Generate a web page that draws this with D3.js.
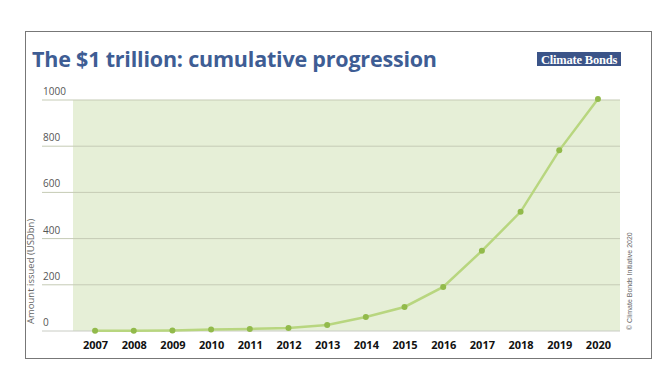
<!DOCTYPE html>
<html>
<head>
<meta charset="utf-8">
<script src="https://cdn.jsdelivr.net/npm/d3@7"></script>
<style>
  body { margin: 0; background: #fff; }
  svg { display: block; }
</style>
</head>
<body>
<svg id="chart" width="672" height="374"></svg>
<script>
// cumulative green bond issuance, USDbn
var years = [2007, 2008, 2009, 2010, 2011, 2012, 2013, 2014, 2015, 2016, 2017, 2018, 2019, 2020];
var amounts = [1, 1.5, 2, 6, 9, 13, 26, 61, 104, 191, 347, 516, 782, 1004];
var yTicks = [0, 200, 400, 600, 800, 1000];

var svg = d3.select("#chart"),
    margin = {top: 100, right: 52, bottom: 43, left: 73},
    width = +svg.attr("width") - margin.left - margin.right,
    height = +svg.attr("height") - margin.top - margin.bottom;

// outer frame
svg.append("rect")
    .attr("x", 25.5).attr("y", 31.5)
    .attr("width", 626).attr("height", 327)
    .attr("fill", "none")
    .attr("stroke", "#777")
    .attr("stroke-width", 1);

svg.append("text")
    .attr("x", 32)
    .attr("y", 67)
    .attr("fill", "#3e5d94")
    .style("font", "bold 21.5px 'Open Sans', sans-serif")
    .style("letter-spacing", "-0.2px")
    .text("The $1 trillion: cumulative progression");

// logo
var logo = svg.append("g").attr("transform", "translate(537,52)");
logo.append("rect")
    .attr("width", 84).attr("height", 14)
    .attr("fill", "#3b5488");
logo.append("text")
    .attr("x", 42).attr("y", 11.5)
    .attr("text-anchor", "middle")
    .attr("fill", "#fff")
    .style("font", "bold 12.5px 'Liberation Serif', serif")
    .style("letter-spacing", "-0.2px")
    .text("Climate Bonds");

var g = svg.append("g").attr("transform", "translate(" + margin.left + "," + margin.top + ")");

var x = d3.scalePoint()
    .domain(years)
    .range([0, width])
    .padding(0.57);

var y = d3.scaleLinear()
    .domain([0, 1000])
    .range([height, 0]);

g.append("rect")
    .attr("width", width)
    .attr("height", height)
    .attr("fill", "#e6efd7");

// gridlines + labels
var grid = g.append("g").selectAll(".grid")
    .data(yTicks)
    .enter().append("g")
      .attr("transform", function(d) { return "translate(0," + y(d) + ")"; });

grid.append("line")
    .attr("x1", -31)
    .attr("x2", width)
    .attr("stroke", function(d) { return d === 0 ? "#c9ccc4" : "#c5cbb5"; })
    .attr("stroke-width", 1);

grid.append("text")
    .attr("x", -30)
    .attr("y", -5)
    .attr("fill", "#555")
    .style("font", "10px 'Open Sans', sans-serif")
    .text(function(d) { return d; });

// x axis labels
g.append("g")
    .attr("transform", "translate(0," + height + ")")
    .call(d3.axisBottom(x).tickSize(0).tickPadding(10))
    .call(function(a) {
      a.select(".domain").remove();
      a.selectAll("text")
        .attr("fill", "#111")
        .style("font", "bold 11px 'Open Sans', sans-serif");
    });

var line = d3.line()
    .x(function(d, i) { return x(years[i]); })
    .y(function(d) { return y(d); });

g.append("path")
    .datum(amounts)
    .attr("fill", "none")
    .attr("stroke", "#b8d67f")
    .attr("stroke-width", 2.5)
    .attr("d", line);

g.selectAll(".dot")
    .data(amounts)
    .enter().append("circle")
      .attr("class", "dot")
      .attr("cx", function(d, i) { return x(years[i]); })
      .attr("cy", function(d) { return y(d); })
      .attr("r", 3)
      .attr("fill", "#92ba4b");

// y axis title
svg.append("text")
    .attr("transform", "translate(34,324) rotate(-90)")
    .attr("fill", "#666")
    .style("font", "9.5px 'Open Sans', sans-serif")
    .text("Amount issued (USDbn)");

// copyright note
svg.append("text")
    .attr("transform", "translate(632,330) rotate(-90)")
    .attr("fill", "#666")
    .style("font", "7px 'Liberation Sans Narrow', 'Liberation Sans', sans-serif")
    .text("© Climate Bonds Initiative 2020");
</script>
</body>
</html>
